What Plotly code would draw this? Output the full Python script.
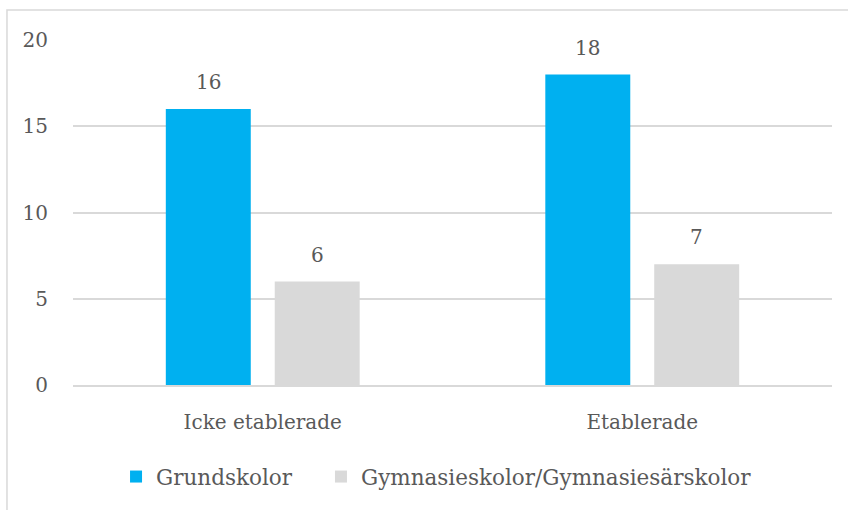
import plotly.graph_objects as go

categories = ["Icke etablerade", "Etablerade"]
series_names = ["Grundskolor", "Gymnasieskolor/Gymnasiesärskolor"]
grundskolor = [16, 18]
gymnasieskolor = [6, 7]
y_ticks = [0, 5, 10, 15, 20]

colors = ["#00B0F0", "#D9D9D9"]
FONT = "DejaVu Serif"
TXT = "#595959"
FS = 20
LFS = 21.5

fig = go.Figure()
for name, vals, col, lg in zip(series_names, [grundskolor, gymnasieskolor], colors,
                               ["legend", "legend2"]):
    fig.add_trace(go.Bar(x=categories, y=vals, name=name, marker_color=col,
                         marker_line_width=0, hoverinfo="skip", legend=lg))

# data labels
for i, vals in enumerate([grundskolor, gymnasieskolor]):
    shift = -54.5 if i == 0 else 54.5
    for c, v in zip(categories, vals):
        fig.add_annotation(x=c, y=v, text=str(v), showarrow=False, xshift=shift,
                           yanchor="bottom", yshift=13,
                           font=dict(family=FONT, size=FS, color=TXT))

fig.add_shape(type="rect", xref="paper", yref="paper", x0=-0.087, x1=1.2, y0=-0.6, y1=1.087,
              line=dict(color="#D9D9D9", width=1.5), layer="below")

leg_common = dict(orientation="h", yanchor="top", y=-0.206, xanchor="left",
                  font=dict(family=FONT, size=LFS, color=TXT), itemwidth=30,
                  bgcolor="rgba(0,0,0,0)")

fig.update_layout(
    width=848, height=510,
    margin=dict(l=73, r=16, t=40, b=125),
    paper_bgcolor="white", plot_bgcolor="white",
    barmode="group", bargap=0.426, bargroupgap=0.22,
    font=dict(family=FONT, size=FS, color=TXT),
    showlegend=True,
    legend=dict(x=0.0567, **leg_common),
    legend2=dict(x=0.3267, **leg_common),
    xaxis=dict(showgrid=False, showline=True, linecolor="#D9D9D9", linewidth=2,
               ticks="", ticklabelstandoff=18),
    yaxis=dict(range=[0, 20], tickvals=y_ticks, showgrid=True, gridcolor="#D9D9D9",
               gridwidth=1.5, zeroline=False, showline=False, ticks="",
               ticklabelstandoff=24),
)

fig.write_html("out.html", config={"displayModeBar": False},
               post_script="document.body.style.margin='0';document.body.style.overflow='hidden';")
